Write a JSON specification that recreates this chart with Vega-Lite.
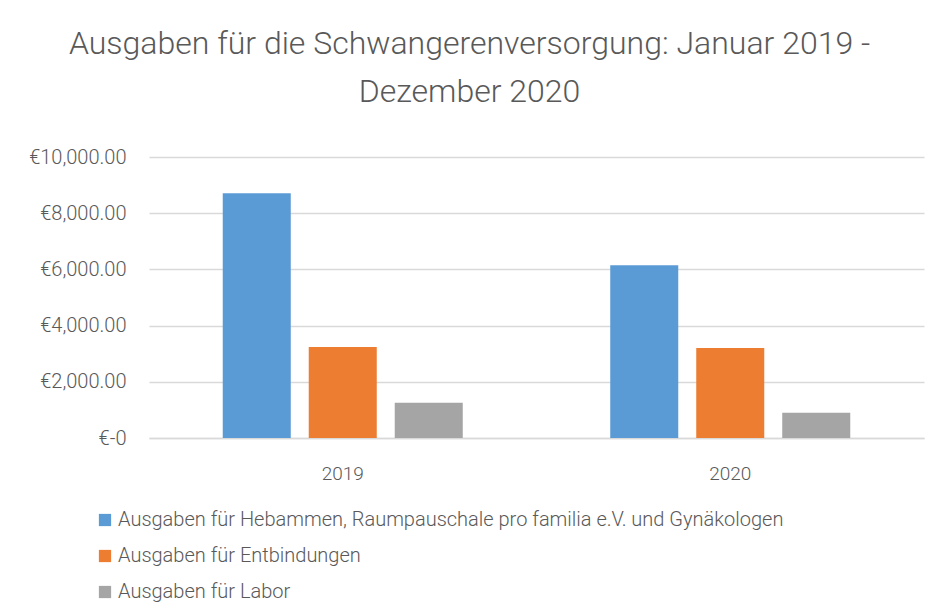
{
  "$schema": "https://vega.github.io/schema/vega-lite/v6.json",
  "autosize": {"type": "none"},
  "width": 775,
  "height": 281,
  "padding": {"left": 149, "top": 157, "right": 15, "bottom": 177},
  "background": "white",
  "title": {
    "text": ["Ausgaben für die Schwangerenversorgung: Januar 2019 -", "Dezember 2020"],
    "font": "Roboto",
    "fontSize": 32,
    "fontWeight": 300,
    "color": "#595959",
    "lineHeight": 48,
    "anchor": "middle",
    "dx": -67,
    "offset": 38
  },
  "data": {
    "values": [
      {"Jahr": "2019", "Kategorie": "Ausgaben für Hebammen, Raumpauschale pro familia e.V. und Gynäkologen", "Betrag": 8708},
      {"Jahr": "2019", "Kategorie": "Ausgaben für Entbindungen", "Betrag": 3241},
      {"Jahr": "2019", "Kategorie": "Ausgaben für Labor", "Betrag": 1253},
      {"Jahr": "2020", "Kategorie": "Ausgaben für Hebammen, Raumpauschale pro familia e.V. und Gynäkologen", "Betrag": 6152},
      {"Jahr": "2020", "Kategorie": "Ausgaben für Entbindungen", "Betrag": 3206},
      {"Jahr": "2020", "Kategorie": "Ausgaben für Labor", "Betrag": 898}
    ]
  },
  "mark": {"type": "bar"},
  "encoding": {
    "x": {
      "field": "Jahr",
      "type": "nominal",
      "scale": {"paddingInner": 0.334, "paddingOuter": 0.167},
      "axis": {
        "title": null,
        "labelAngle": 0,
        "labelFont": "Roboto",
        "labelFontWeight": 300,
        "labelFontSize": 19,
        "labelColor": "#595959",
        "labelPadding": 26,
        "ticks": false,
        "domainColor": "#d9d9d9",
        "domainWidth": 1.5
      }
    },
    "xOffset": {
      "field": "Kategorie",
      "type": "nominal",
      "sort": ["Ausgaben für Hebammen, Raumpauschale pro familia e.V. und Gynäkologen", "Ausgaben für Entbindungen", "Ausgaben für Labor"],
      "scale": {"paddingInner": 0.209, "paddingOuter": 0.105}
    },
    "y": {
      "field": "Betrag",
      "type": "quantitative",
      "scale": {"domain": [0, 10000]},
      "axis": {
        "title": null,
        "values": [0, 2000, 4000, 6000, 8000, 10000],
        "labelExpr": "datum.value == 0 ? '€-0' : '€' + format(datum.value, ',.2f')",
        "labelFont": "Roboto",
        "labelFontWeight": 300,
        "labelFontSize": 20,
        "labelColor": "#595959",
        "labelPadding": 23,
        "ticks": false,
        "domain": false,
        "gridColor": "#d9d9d9",
        "gridWidth": 1.5
      }
    },
    "color": {
      "field": "Kategorie",
      "type": "nominal",
      "sort": ["Ausgaben für Hebammen, Raumpauschale pro familia e.V. und Gynäkologen", "Ausgaben für Entbindungen", "Ausgaben für Labor"],
      "scale": {
        "domain": ["Ausgaben für Hebammen, Raumpauschale pro familia e.V. und Gynäkologen", "Ausgaben für Entbindungen", "Ausgaben für Labor"],
        "range": ["#5B9BD5", "#ED7D31", "#A5A5A5"]
      },
      "legend": {
        "title": null,
        "orient": "none",
        "direction": "vertical",
        "legendX": -54,
        "legendY": 353,
        "symbolType": "square",
        "symbolSize": 150,
        "symbolStrokeWidth": 0,
        "labelFont": "Roboto",
        "labelFontWeight": 300,
        "labelFontSize": 20,
        "labelColor": "#595959",
        "labelLimit": 900,
        "labelOffset": 3,
        "rowPadding": 16
      }
    }
  },
  "config": {
    "view": {"stroke": null}
  }
}
